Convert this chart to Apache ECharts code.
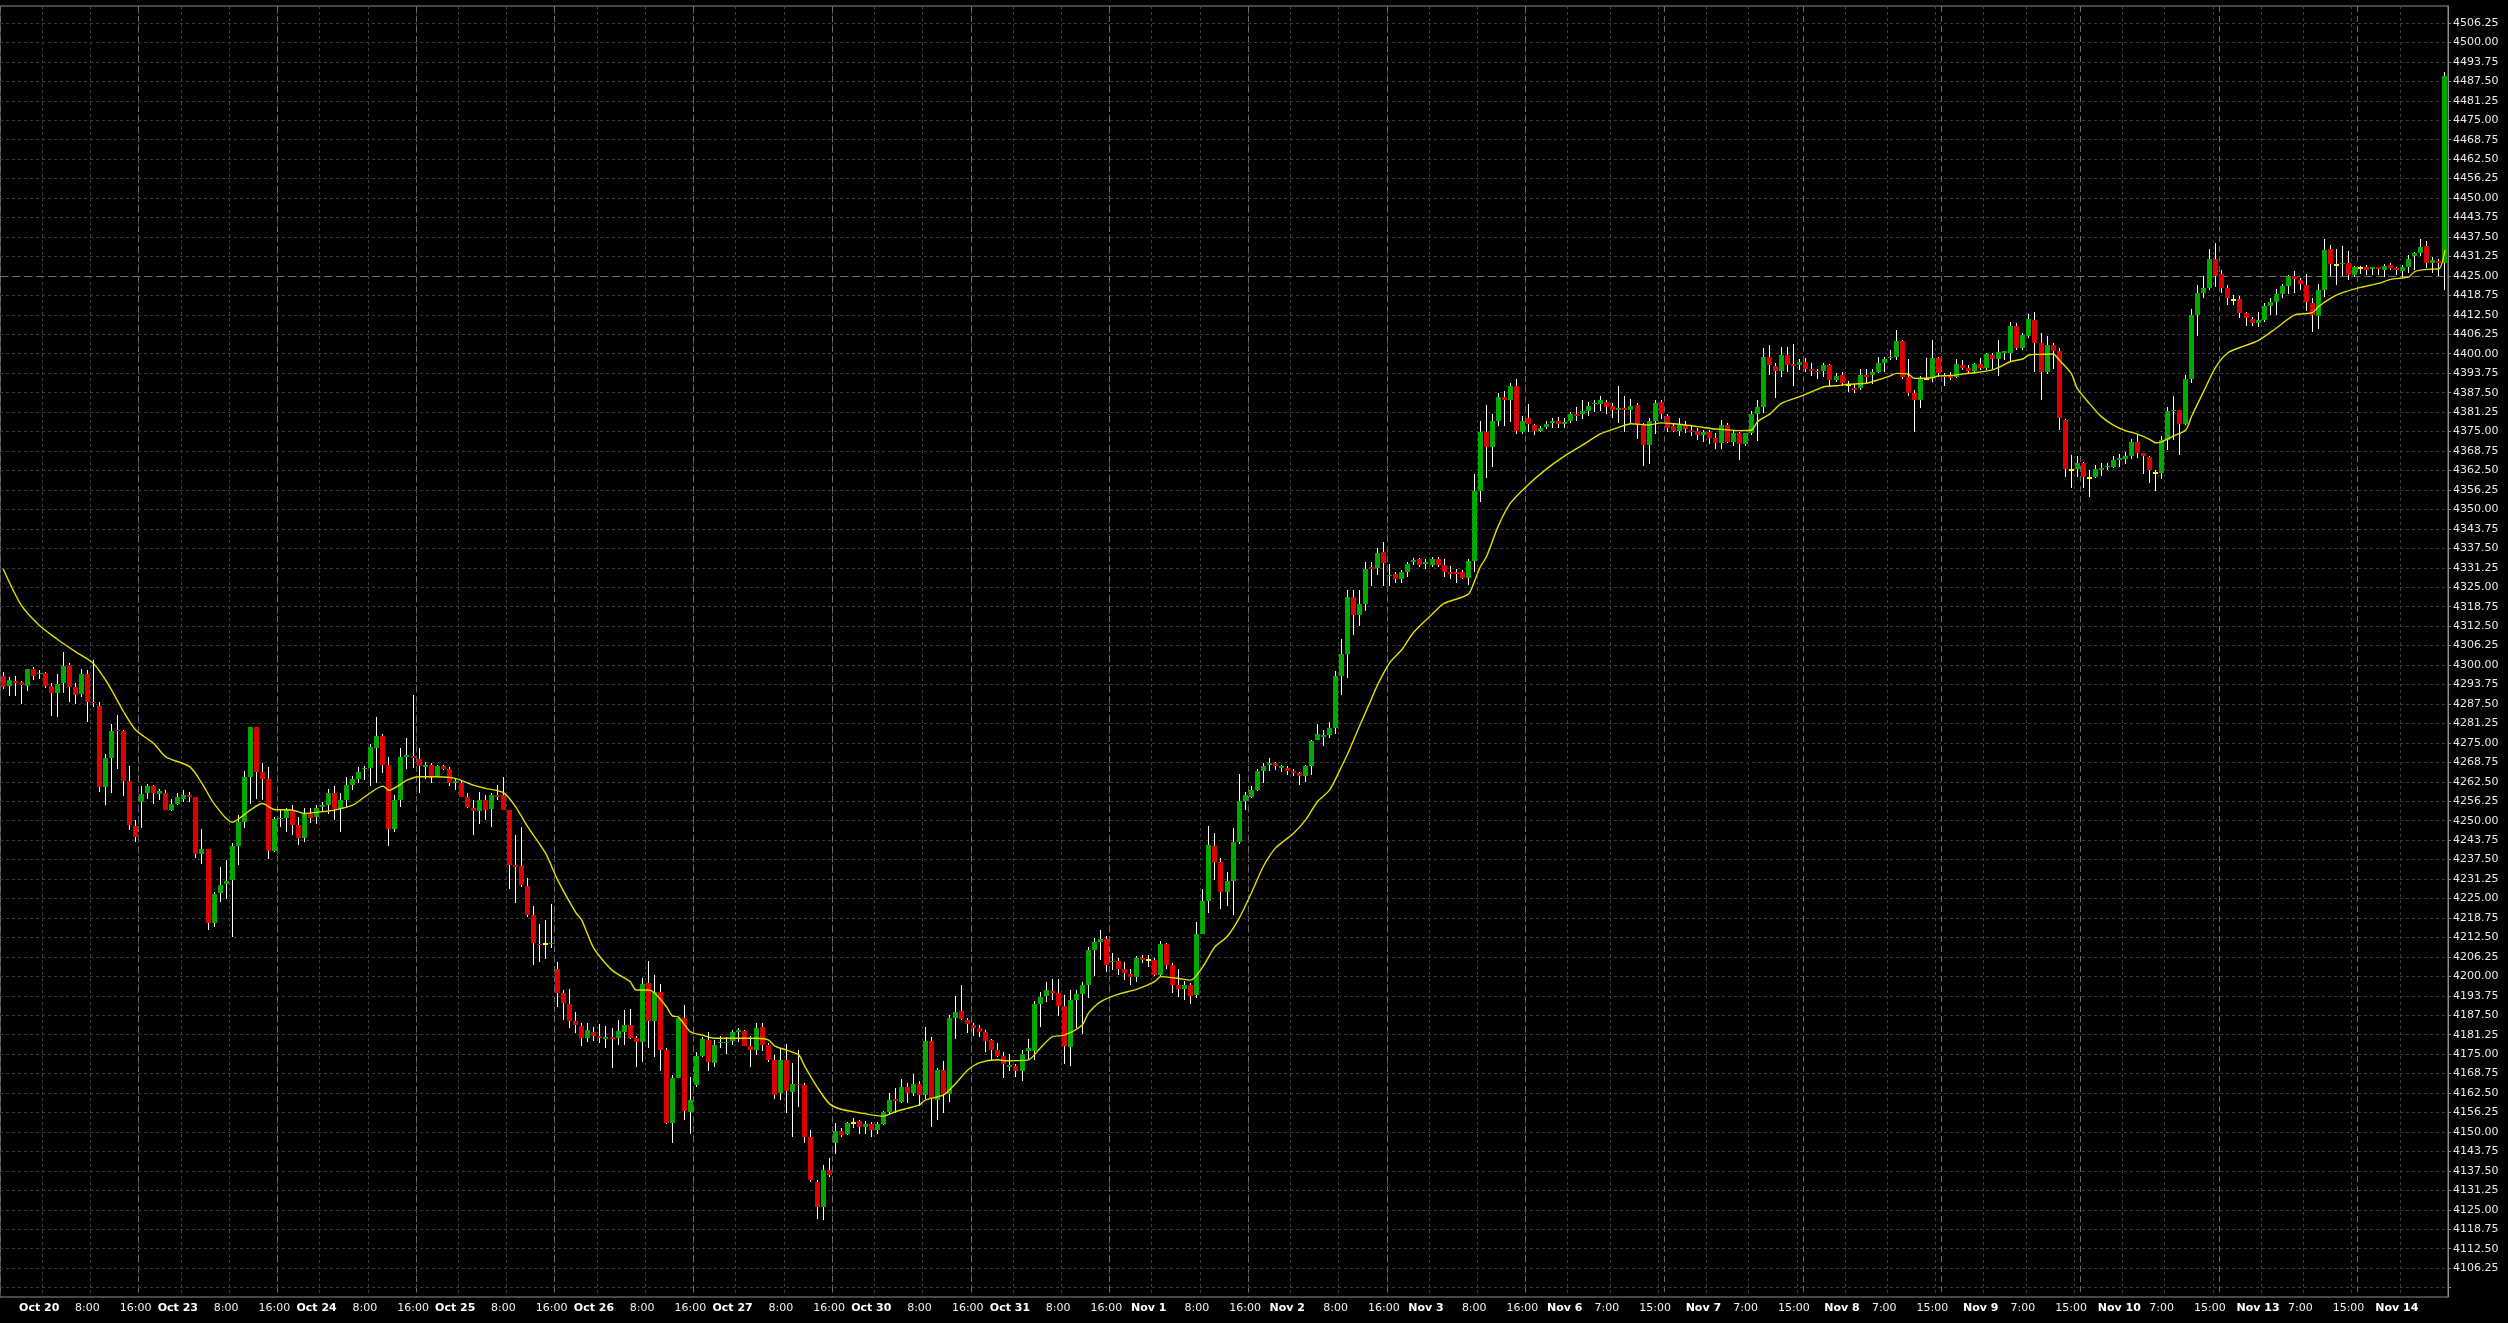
<!DOCTYPE html>
<html><head><meta charset="utf-8">
<script src="https://cdn.jsdelivr.net/npm/echarts@6/dist/echarts.min.js"></script>
<style>html,body{margin:0;padding:0;background:#000;}#c{width:2508px;height:1323px;}</style>
</head><body><div id="c"></div>
<script>
// ---- DATA ----
const days = ['Oct 20','Oct 23','Oct 24','Oct 25','Oct 26','Oct 27','Oct 30','Oct 31','Nov 1','Nov 2','Nov 3','Nov 6','Nov 7','Nov 8','Nov 9','Nov 10','Nov 13','Nov 14'];
const firstDayBar = 6;          // bars of the previous session before "Oct 20"
const barsPerDay = 23;          // hourly bars per trading day
const dstDay = 'Nov 6';
const hourTicksPre = [[8,'8:00'],[16,'16:00']];
const hourTicksPost = [[7,'7:00'],[15,'15:00']];
const sessionBreakOffset = 16;  // session separator after this bar of each day

// [open, high, low, close]
const ohlc = [
[4296.5,4297.75,4292.25,4293.0],[4293.25,4296.25,4290.0,4295.25],[4294.75,4296.5,4290.0,4294.25],[4294.5,4295.0,4287.5,4293.5],[4293.25,4298.75,4291.75,4298.75],
[4298.75,4299.5,4295.25,4296.5],[4297.0,4298.5,4295.5,4297.5],[4297.5,4297.75,4292.5,4293.25],[4293.25,4294.25,4283.75,4291.0],[4291.0,4297.0,4283.25,4294.0],
[4294.25,4304.25,4291.0,4299.75],[4300.0,4300.5,4288.25,4293.0],[4293.0,4294.25,4287.5,4290.5],[4290.75,4298.75,4289.75,4297.25],[4297.25,4298.5,4281.75,4288.0],
[4288.0,4301.5,4286.5,4287.75],[4287.0,4288.0,4259.25,4260.75],[4260.75,4271.5,4255.0,4270.0],[4270.25,4281.0,4259.0,4278.75],[4279.0,4284.0,4266.75,4278.75],
[4278.75,4279.0,4258.0,4262.75],[4262.75,4267.5,4247.0,4248.5],[4248.25,4250.25,4243.0,4244.75],[4256.0,4261.0,4247.75,4258.5],[4258.75,4261.75,4257.0,4261.0],
[4261.0,4261.5,4255.25,4258.75],[4258.5,4260.25,4256.5,4259.5],[4259.0,4259.75,4253.5,4253.5],[4253.5,4257.0,4253.25,4255.25],[4255.25,4258.75,4255.0,4257.5],
[4257.0,4259.75,4256.0,4258.25],[4258.25,4259.25,4256.0,4257.75],[4257.5,4257.75,4238.0,4239.25],[4239.25,4247.25,4236.25,4241.0],[4241.0,4241.0,4214.75,4217.25],
[4217.25,4227.25,4216.0,4226.5],[4226.75,4235.25,4224.0,4229.25],[4229.75,4237.25,4225.0,4230.5],[4231.0,4242.75,4212.75,4241.75],[4241.75,4251.75,4235.75,4249.5],
[4249.5,4266.0,4247.75,4264.0],[4264.0,4280.25,4255.5,4280.0],[4280.0,4280.25,4257.0,4265.75],[4265.5,4268.5,4256.5,4263.5],[4263.5,4267.25,4237.75,4240.25],
[4240.25,4251.25,4240.0,4250.5],[4250.5,4253.5,4248.0,4251.0],[4251.0,4254.0,4246.5,4253.5],[4253.5,4255.0,4245.5,4248.5],[4248.5,4251.25,4242.25,4244.5],
[4244.5,4254.0,4243.25,4252.25],[4252.25,4254.0,4249.25,4251.0],[4251.25,4255.0,4249.0,4254.0],[4254.25,4256.0,4253.0,4255.0],[4255.0,4260.25,4252.25,4259.0],
[4258.75,4261.0,4250.25,4253.75],[4253.75,4258.75,4246.25,4256.5],[4256.5,4264.0,4254.5,4261.5],[4261.5,4264.5,4259.75,4263.5],[4263.5,4267.25,4262.0,4265.75],
[4266.5,4267.5,4263.0,4267.0],[4267.0,4274.75,4261.0,4273.75],[4273.5,4283.25,4262.0,4277.25],[4277.25,4278.0,4265.25,4268.0],[4268.0,4270.5,4242.0,4247.25],
[4247.25,4258.25,4246.5,4256.5],[4256.5,4273.25,4254.5,4270.5],[4270.5,4276.5,4266.75,4271.25],[4270.75,4290.25,4267.0,4270.0],[4269.75,4273.5,4259.0,4267.5],
[4267.25,4269.0,4263.5,4268.0],[4268.0,4268.5,4262.25,4264.25],[4264.25,4268.0,4264.0,4267.5],[4267.5,4268.0,4266.25,4266.5],[4266.5,4267.25,4261.0,4262.0],
[4262.0,4263.5,4259.75,4262.75],[4262.25,4263.0,4257.5,4257.75],[4257.75,4258.75,4254.0,4254.25],[4254.0,4256.5,4245.5,4253.0],[4253.0,4259.25,4249.0,4256.5],
[4256.5,4258.25,4250.25,4253.5],[4253.75,4258.75,4248.0,4258.25],[4258.25,4261.5,4256.5,4257.75],[4258.25,4264.0,4253.5,4253.5],[4253.5,4253.5,4228.0,4235.75],
[4235.75,4245.5,4223.5,4235.25],[4235.5,4248.0,4228.75,4229.25],[4229.0,4231.5,4219.0,4219.75],[4219.75,4222.5,4203.5,4210.75],[4210.5,4216.75,4204.5,4210.25],
[4210.25,4218.25,4205.5,4210.25],[4210.25,4223.25,4209.25,4210.75],[4202.5,4204.5,4190.25,4194.75],[4194.5,4195.5,4186.0,4191.5],[4191.25,4196.0,4183.25,4185.75],
[4185.5,4188.5,4181.75,4184.5],[4184.0,4185.0,4177.5,4180.25],[4180.25,4185.0,4179.0,4182.75],[4182.25,4183.75,4179.25,4180.75],[4180.75,4184.75,4178.75,4180.25],
[4180.0,4184.0,4177.0,4180.5],[4180.5,4183.25,4170.5,4180.0],[4180.25,4186.0,4178.0,4182.5],[4182.25,4189.25,4178.0,4184.5],[4184.5,4189.5,4180.0,4180.25],
[4180.25,4181.0,4171.0,4179.0],[4179.0,4199.5,4172.5,4197.5],[4197.75,4205.0,4177.0,4185.5],[4185.75,4200.5,4174.25,4195.0],[4195.0,4197.5,4169.75,4176.25],
[4176.25,4177.0,4152.5,4153.0],[4153.0,4168.25,4146.5,4167.5],[4167.5,4187.0,4167.25,4186.75],[4186.75,4190.75,4153.75,4156.75],[4156.5,4167.75,4149.5,4160.25],
[4165.0,4175.75,4164.5,4174.5],[4174.5,4180.5,4174.25,4180.0],[4179.5,4182.25,4169.75,4172.5],[4172.25,4179.5,4171.0,4178.0],[4178.5,4181.0,4177.0,4179.0],
[4178.5,4180.5,4175.0,4179.0],[4179.25,4182.75,4178.0,4182.0],[4182.25,4183.25,4179.0,4182.75],[4182.5,4182.75,4177.5,4177.5],[4177.5,4181.0,4171.0,4176.5],
[4176.25,4185.0,4174.75,4183.5],[4183.75,4185.0,4176.0,4178.0],[4178.0,4178.5,4172.5,4173.0],[4173.0,4174.75,4160.5,4162.0],[4162.5,4177.0,4160.25,4173.0],
[4173.0,4178.25,4156.25,4163.25],[4163.0,4172.25,4148.5,4165.5],[4165.5,4176.5,4158.0,4165.0],[4165.0,4165.75,4146.5,4148.25],[4148.25,4150.5,4134.0,4134.5],
[4134.0,4134.5,4122.0,4125.75],[4125.75,4139.5,4121.75,4137.75],[4137.75,4141.5,4135.5,4136.25],[4146.5,4153.0,4143.0,4150.25],[4150.25,4151.25,4148.25,4149.0],
[4149.25,4153.25,4149.0,4152.75],[4153.0,4154.5,4151.25,4153.0],[4153.5,4153.75,4149.5,4151.5],[4151.5,4153.5,4149.5,4152.5],[4152.5,4153.25,4148.25,4150.5],
[4150.5,4153.25,4149.5,4152.5],[4152.5,4156.75,4152.25,4156.5],[4156.5,4162.5,4155.5,4160.25],[4160.5,4164.25,4156.0,4160.0],[4159.75,4167.0,4159.25,4164.5],
[4164.5,4165.75,4159.25,4162.5],[4162.5,4168.75,4161.5,4165.5],[4165.5,4166.25,4158.25,4161.75],[4161.75,4183.75,4160.75,4179.25],[4179.25,4180.5,4151.75,4160.5],
[4160.25,4170.5,4154.0,4170.0],[4170.0,4172.75,4156.0,4162.25],[4162.25,4187.5,4159.5,4186.75],[4186.75,4193.75,4180.0,4188.5],[4188.75,4197.25,4186.0,4186.25],
[4186.0,4186.75,4181.75,4184.75],[4184.25,4185.0,4180.75,4183.5],[4183.5,4184.5,4180.5,4182.0],[4182.0,4182.75,4175.75,4179.25],[4179.5,4180.0,4173.0,4176.25],
[4176.25,4178.5,4174.0,4174.5],[4174.5,4175.75,4167.5,4172.0],[4171.0,4175.0,4169.5,4171.5],[4171.25,4172.0,4167.75,4169.5],[4169.5,4176.25,4166.5,4175.0],
[4176.0,4180.0,4173.5,4177.0],[4176.0,4192.0,4173.25,4191.25],[4191.25,4195.0,4183.75,4193.5],[4193.75,4198.25,4191.75,4195.5],[4195.25,4199.25,4192.5,4194.5],
[4194.5,4199.25,4187.25,4190.5],[4190.5,4194.0,4172.0,4177.5],[4177.25,4195.5,4171.25,4192.5],[4192.5,4195.5,4183.25,4194.25],[4194.25,4198.25,4181.5,4197.25],
[4197.25,4209.5,4193.0,4208.5],[4208.5,4212.25,4200.0,4211.0],[4211.0,4215.0,4205.25,4212.0],[4212.0,4213.0,4201.5,4203.5],[4204.5,4207.5,4202.0,4205.0],
[4205.0,4206.0,4200.5,4202.25],[4202.25,4204.5,4198.75,4201.0],[4200.75,4202.5,4197.25,4199.75],[4199.75,4206.5,4198.25,4206.0],[4205.75,4206.75,4204.25,4205.25],
[4205.25,4206.75,4203.0,4205.25],[4205.25,4205.75,4200.0,4200.5],[4200.5,4211.5,4200.0,4210.5],[4210.5,4210.75,4202.5,4203.5],[4203.5,4204.25,4194.75,4197.25],
[4197.25,4202.5,4193.5,4196.0],[4196.0,4198.5,4192.25,4197.25],[4197.25,4197.75,4191.0,4193.75],[4194.0,4217.5,4193.0,4213.75],[4213.75,4228.0,4213.5,4224.25],
[4224.25,4248.25,4220.5,4242.25],[4242.0,4246.0,4231.0,4236.75],[4236.75,4238.0,4221.5,4227.0],[4227.0,4233.5,4222.5,4230.5],[4230.5,4247.5,4219.75,4243.25],
[4243.25,4265.0,4242.5,4256.25],[4256.25,4259.25,4253.5,4258.25],[4257.5,4261.0,4257.25,4260.0],[4260.0,4266.75,4259.5,4266.0],[4266.0,4268.5,4262.25,4267.5],
[4267.75,4270.0,4266.0,4268.5],[4268.5,4269.0,4266.25,4267.5],[4267.0,4268.0,4265.75,4267.5],[4267.0,4267.5,4264.75,4266.0],[4266.0,4266.5,4264.5,4265.25],
[4265.25,4265.75,4261.5,4264.5],[4264.5,4268.0,4262.5,4267.5],[4267.5,4276.0,4264.75,4275.5],[4276.0,4281.0,4276.0,4278.0],[4277.0,4279.0,4274.0,4277.5],
[4277.5,4281.75,4276.5,4279.75],[4279.75,4298.0,4277.75,4296.5],[4296.5,4308.5,4290.5,4303.5],[4303.5,4324.0,4295.75,4321.75],[4321.75,4324.0,4309.5,4316.0],
[4316.0,4324.0,4312.5,4319.5],[4319.5,4333.25,4317.25,4331.0],[4331.5,4333.25,4325.5,4331.0],[4331.25,4337.5,4329.0,4336.0],[4336.25,4339.5,4325.5,4332.75],
[4328.5,4332.5,4325.5,4329.0],[4329.25,4330.0,4326.5,4327.5],[4327.5,4330.5,4326.5,4330.0],[4330.0,4333.25,4328.25,4332.5],[4333.0,4334.25,4332.25,4333.75],
[4334.0,4334.25,4331.5,4332.25],[4332.5,4334.0,4330.75,4333.0],[4332.25,4334.75,4331.5,4334.0],[4334.0,4334.75,4331.5,4332.25],[4332.0,4334.0,4328.25,4330.0],
[4330.0,4331.75,4327.5,4329.25],[4329.75,4331.0,4326.25,4329.25],[4329.75,4330.5,4327.5,4328.0],[4328.0,4334.0,4325.75,4333.5],[4333.5,4361.5,4329.75,4356.0],
[4356.0,4378.5,4352.5,4375.0],[4375.0,4383.5,4360.0,4370.0],[4370.0,4380.5,4363.5,4378.5],[4378.5,4387.5,4376.75,4386.25],[4386.0,4388.0,4376.75,4385.25],
[4385.25,4390.5,4378.0,4389.75],[4389.75,4392.0,4374.25,4375.25],[4375.0,4380.0,4374.25,4378.5],[4379.25,4383.75,4375.0,4377.5],[4377.0,4377.5,4374.0,4375.25],
[4375.25,4376.75,4374.75,4376.0],[4376.5,4378.5,4375.75,4377.5],[4377.75,4379.5,4376.0,4378.5],[4378.5,4379.75,4376.0,4377.5],[4377.5,4379.25,4376.0,4378.0],
[4378.25,4381.25,4377.75,4380.5],[4380.5,4382.75,4378.5,4380.0],[4380.5,4385.0,4379.0,4381.75],[4381.75,4384.5,4380.0,4383.25],[4383.75,4385.25,4381.25,4384.25],
[4384.0,4386.5,4381.75,4385.0],[4384.5,4385.25,4380.5,4383.0],[4383.25,4384.25,4379.25,4382.0],[4382.0,4389.75,4377.75,4382.5],[4382.5,4386.5,4375.0,4382.0],
[4382.0,4385.5,4377.75,4383.25],[4383.5,4384.25,4372.5,4377.5],[4377.5,4377.75,4364.0,4370.75],[4370.75,4379.5,4364.5,4378.5],[4378.5,4385.0,4374.25,4384.25],
[4384.5,4385.25,4379.0,4380.5],[4380.0,4380.5,4375.0,4376.0],[4376.75,4377.5,4374.75,4375.25],[4375.25,4379.25,4373.5,4377.0],[4377.0,4378.25,4374.5,4375.75],
[4375.5,4376.75,4373.5,4375.0],[4375.25,4376.0,4372.25,4374.0],[4374.0,4375.5,4371.75,4374.75],[4374.75,4375.5,4371.0,4373.0],[4373.0,4374.5,4369.5,4371.25],
[4371.25,4378.75,4369.25,4377.25],[4377.25,4377.75,4371.25,4371.75],[4371.75,4375.5,4370.5,4374.5],[4374.5,4375.0,4365.75,4371.0],[4371.0,4374.5,4370.25,4374.5],
[4374.5,4381.5,4374.0,4380.5],[4380.5,4385.0,4372.0,4382.75],[4382.75,4401.75,4381.0,4399.0],[4399.0,4402.75,4393.25,4396.25],[4396.0,4397.0,4385.75,4394.5],
[4394.5,4402.25,4392.5,4399.5],[4399.5,4402.25,4394.25,4396.5],[4396.75,4403.25,4389.5,4396.0],[4396.5,4398.25,4394.75,4397.5],[4397.5,4398.5,4394.0,4395.0],
[4395.0,4397.0,4392.75,4394.5],[4394.5,4395.25,4392.0,4394.0],[4394.5,4397.0,4392.5,4396.5],[4396.25,4396.75,4389.5,4391.5],[4391.5,4393.75,4391.0,4393.0],
[4393.25,4394.0,4389.5,4390.75],[4390.0,4391.25,4387.75,4390.0],[4389.0,4390.25,4387.25,4388.5],[4389.0,4395.25,4388.5,4393.25],[4393.25,4395.25,4390.25,4392.5],
[4393.25,4395.25,4390.25,4394.0],[4394.25,4399.0,4393.75,4397.0],[4397.0,4399.0,4394.25,4398.25],[4398.5,4401.25,4398.0,4399.0],[4399.0,4407.75,4398.0,4404.0],
[4404.0,4404.5,4392.0,4392.5],[4392.5,4398.25,4386.5,4387.5],[4387.5,4388.25,4375.0,4385.0],[4385.0,4392.75,4382.5,4392.0],[4392.0,4398.5,4391.75,4392.0],
[4392.25,4404.5,4391.0,4398.75],[4398.75,4399.0,4392.5,4393.75],[4393.25,4393.75,4389.5,4392.5],[4392.75,4394.25,4391.5,4392.25],[4392.5,4398.25,4392.25,4396.75],
[4396.5,4398.0,4394.75,4395.5],[4395.5,4396.5,4393.75,4394.5],[4394.5,4397.0,4394.25,4396.75],[4396.75,4398.5,4394.75,4395.5],[4395.5,4400.25,4394.75,4400.0],
[4399.5,4400.25,4395.25,4398.25],[4398.25,4404.5,4392.75,4400.5],[4400.25,4401.0,4398.0,4400.75],[4400.25,4410.25,4397.5,4409.0],[4409.0,4409.75,4401.25,4401.75],
[4401.75,4406.5,4401.25,4406.0],[4405.75,4412.75,4405.0,4411.0],[4410.75,4413.25,4394.25,4403.5],[4403.5,4406.5,4385.0,4394.25],[4394.25,4405.75,4393.5,4402.75],
[4402.75,4403.5,4395.0,4401.0],[4401.0,4401.75,4375.5,4379.25],[4378.75,4379.0,4360.25,4363.0],[4362.5,4367.5,4356.75,4362.5],[4363.0,4367.0,4360.5,4364.75],
[4364.75,4365.25,4357.0,4360.5],[4360.0,4362.75,4354.0,4360.0],[4360.5,4364.25,4360.0,4363.0],[4362.75,4364.75,4360.75,4363.25],[4363.5,4365.0,4362.5,4364.0],
[4363.75,4367.0,4363.25,4366.0],[4366.0,4367.75,4363.75,4366.5],[4366.25,4368.5,4364.5,4367.25],[4367.25,4372.75,4366.25,4371.5],[4371.5,4374.0,4366.5,4368.25],
[4368.0,4368.25,4361.5,4367.0],[4366.75,4367.0,4358.5,4362.5],[4361.75,4362.5,4355.75,4361.75],[4361.75,4373.5,4359.75,4372.25],[4372.25,4383.0,4369.0,4381.5],
[4381.5,4386.5,4372.25,4382.0],[4382.0,4382.0,4367.5,4377.5],[4377.5,4393.25,4377.0,4391.75],[4391.75,4414.5,4390.5,4412.5],[4412.5,4422.0,4405.75,4419.5],
[4419.5,4425.0,4417.75,4421.0],[4421.0,4433.75,4420.5,4430.5],[4430.5,4435.5,4421.5,4425.0],[4425.75,4427.0,4419.5,4421.25],[4421.0,4422.0,4415.5,4417.75],
[4417.25,4418.75,4415.5,4417.25],[4417.5,4418.5,4411.5,4413.0],[4413.0,4413.5,4408.75,4411.5],[4411.25,4411.75,4408.75,4410.0],[4410.0,4413.5,4408.5,4410.75],
[4410.75,4416.25,4410.25,4415.25],[4415.25,4417.75,4412.5,4416.5],[4416.5,4420.75,4412.5,4419.25],[4419.25,4422.5,4417.75,4421.75],[4421.75,4425.25,4419.25,4425.0],
[4425.0,4426.5,4419.5,4424.0],[4423.75,4424.25,4420.5,4422.5],[4422.0,4425.75,4413.75,4416.5],[4416.25,4417.75,4407.0,4412.5],[4412.0,4422.5,4408.0,4420.5],
[4420.5,4437.0,4418.25,4433.25],[4433.5,4435.0,4425.0,4428.75],[4428.5,4433.75,4422.0,4428.5],[4428.75,4434.5,4425.0,4429.25],[4429.25,4433.0,4423.75,4425.25],
[4425.25,4428.25,4424.75,4428.0],[4427.5,4428.25,4425.75,4427.5],[4427.75,4428.5,4425.25,4427.0],[4427.25,4428.0,4425.25,4427.75],[4427.75,4428.0,4425.25,4427.25],
[4426.75,4428.75,4424.75,4428.25],[4428.5,4429.0,4427.0,4427.5],[4427.5,4428.0,4425.25,4426.75],[4426.5,4428.5,4424.75,4427.75],[4427.75,4431.75,4426.0,4430.5],
[4431.25,4432.75,4427.0,4432.25],[4432.25,4437.0,4431.25,4434.25],[4434.5,4436.25,4427.5,4429.25],[4429.0,4431.0,4426.0,4430.0],[4429.75,4430.5,4425.0,4429.0],
[4429.25,4490.5,4420.5,4489.25]
];

// moving average: [bar index, value]
const maPoints = [[0,4331],[3,4319.3],[6,4312.8],[9,4308.3],[12,4304.3],[15,4300.5],[17,4295.2],[18,4292],[20,4285],[22,4279.1],[25,4274.8],[27,4270.5],[31,4267.3],[33,4262],[35,4255.5],[38,4249.5],[41,4253.4],[43,4255.5],[45,4253.6],[48,4253.4],[50,4252.3],[53,4252.9],[55,4253.4],[58,4255],[60,4257.7],[63,4261.1],[64,4259.8],[67,4263],[69,4264.1],[72,4264.1],[75,4263.6],[78,4261.4],[80,4260.4],[83,4259],[85,4254.5],[87,4248.1],[90,4239.5],[92,4230.9],[95,4220.5],[96,4218],[98,4209],[101,4202],[104,4198.3],[105,4195.6],[107,4195.6],[108,4194.8],[110,4190.3],[111,4187.3],[112,4187],[114,4182.2],[116,4181.1],[118,4180.1],[122,4180.1],[125,4180.1],[127,4179.5],[128,4177.6],[130,4176.3],[132,4174.7],[133,4171],[135,4164.5],[137,4159.2],[139,4157.3],[142,4156.2],[144,4155.5],[146,4155.1],[148,4156.5],[150,4157.6],[152,4158.7],[153,4160.3],[156,4161.9],[158,4165.6],[160,4169.9],[162,4172.3],[165,4173.2],[166,4172.9],[170,4173.1],[172,4176.9],[174,4180.6],[176,4181.1],[179,4184.4],[180,4188.1],[182,4191.8],[185,4194.3],[188,4195.8],[191,4198.3],[192,4199.9],[195,4199.3],[197,4198.8],[199,4203.1],[201,4209.5],[203,4212.7],[205,4218.6],[207,4226.6],[209,4235.2],[211,4241.1],[214,4245.9],[216,4250.2],[218,4256.1],[220,4259.8],[222,4267.4],[223,4271.4],[225,4280.5],[227,4289.3],[228,4293.8],[230,4300.8],[232,4305],[234,4310.6],[237,4316.3],[239,4319.8],[243,4322.7],[244,4326.7],[245,4331.5],[246,4334.7],[248,4344.7],[250,4352],[253,4358],[256,4363],[259,4367.2],[262,4370.7],[265,4374.3],[268,4376.4],[270,4377.5],[273,4377.1],[275,4377.8],[277,4377.5],[279,4377.1],[281,4376.6],[284,4375.8],[285,4375.7],[288,4375.3],[290,4375.5],[291,4378.2],[293,4380.6],[295,4384.1],[298,4386.2],[300,4387.8],[302,4389.4],[304,4389.7],[306,4390.2],[309,4390.5],[311,4391.6],[313,4392.9],[314,4393.7],[316,4393.4],[317,4392.1],[320,4392.3],[321,4392.9],[323,4393],[325,4393.5],[327,4393.9],[330,4394.8],[331,4395.6],[333,4397.5],[335,4398.3],[336,4399.6],[338,4399.8],[340,4399.9],[341,4398],[343,4393.7],[344,4388.9],[346,4384.1],[348,4379.8],[350,4377.1],[352,4375.3],[354,4374.2],[356,4372.5],[357,4371.4],[358,4371.7],[360,4373.6],[362,4375.5],[363,4380],[365,4388],[367,4395.8],[369,4400.3],[371,4402],[374,4404.2],[377,4408.2],[380,4412.4],[383,4413.2],[384,4415.1],[386,4417.8],[388,4419.6],[391,4421.3],[394,4422.6],[396,4423.9],[399,4424.7],[400,4426.4],[402,4427.1],[404,4427.3],[405,4433.3]];

const yLabels = [4106.25,4112.5,4118.75,4125,4131.25,4137.5,4143.75,4150,4156.25,4162.5,4168.75,4175,4181.25,4187.5,4193.75,4200,4206.25,4212.5,4218.75,4225,4231.25,4237.5,4243.75,4250,4256.25,4262.5,4268.75,4275,4281.25,4287.5,4293.75,4300,4306.25,4312.5,4318.75,4325,4331.25,4337.5,4343.75,4350,4356.25,4362.5,4368.75,4375,4381.25,4387.5,4393.75,4400,4406.25,4412.5,4418.75,4425,4431.25,4437.5,4443.75,4450,4456.25,4462.5,4468.75,4475,4481.25,4487.5,4493.75,4500,4506.25];
const yGrid = [4100].concat(yLabels);
const priceLine = 4425;
const yMin = 4097.0, yMax = 4511.7;

// ---- BUILD ----
const N = ohlc.length;
const cats = [];
const labelText = [];
for (let i = 0; i < N; i++) {
  const k = Math.floor((i - firstDayBar) / barsPerDay);
  const off = (i - firstDayBar) - k * barsPerDay;
  cats.push((k < 0 ? 'Oct 19' : days[k]) + ' #' + off);
}
const dstIdx = days.indexOf(dstDay);
days.forEach((d, k) => {
  const s = firstDayBar + k * barsPerDay;
  if (s < N) labelText[s] = '{d|' + d + '}';
  const ht = k >= dstIdx ? hourTicksPost : hourTicksPre;
  ht.forEach(([o, t]) => { if (s + o < N - 4) labelText[s + o] = '{h|' + t + '}'; });
});

const candleData = ohlc.map((r, i) => [i, r[0], r[1], r[2], r[3]]);

function renderCandle(params, api) {
  const i = api.value(0), o = api.value(1), h = api.value(2), l = api.value(3), c = api.value(4);
  const pO = api.coord([i, o]), pC = api.coord([i, c]), pH = api.coord([i, h]), pL = api.coord([i, l]);
  const cx = Math.floor(pO[0]);
  const children = [{
    type: 'line',
    shape: { x1: cx + 0.5, y1: Math.round(pH[1]), x2: cx + 0.5, y2: Math.round(pL[1]) },
    style: { stroke: '#ffffff', lineWidth: 1 }
  }];
  if (o === c) {
    const y = Math.round(pO[1]);
    children.push({ type: 'rect', shape: { x: cx - 2, y: y - 1, width: 5, height: 2 }, style: { fill: '#ffff00' } });
  } else {
    const top = Math.round(Math.min(pO[1], pC[1]));
    const bot = Math.round(Math.max(pO[1], pC[1]));
    children.push({
      type: 'rect',
      shape: { x: cx - 2, y: top, width: 5, height: Math.max(1, bot - top) },
      style: { fill: c > o ? '#00a800' : '#dd0000' }
    });
  }
  return { type: 'group', children };
}

const chart = echarts.init(document.getElementById('c'));
chart.setOption({
  backgroundColor: '#000000',
  animation: false,
  grid: { left: 0, right: 60, top: 6, bottom: 26, show: true, borderColor: '#8c8c8c', borderWidth: 1, backgroundColor: '#000000' },
  xAxis: [{
    type: 'category', data: cats, boundaryGap: true,
    axisLine: { show: false }, axisTick: { show: false },
    axisLabel: {
      interval: (idx) => !!labelText[idx],
      formatter: (v, idx) => labelText[idx] || '',
      margin: 6,
      rich: {
        d: { fontFamily: 'DejaVu Sans', fontSize: 11, fontWeight: 'bold', color: '#ffffff' },
        h: { fontFamily: 'DejaVu Sans', fontSize: 11, color: '#f0f0f0' }
      }
    },
    splitLine: { show: true, interval: (idx) => !!labelText[idx - 1], lineStyle: { color: '#3a3a3a', type: [3, 3], width: 1 } }
  }, {
    type: 'category', data: cats, boundaryGap: true, position: 'top',
    axisLine: { show: false }, axisTick: { show: false }, axisLabel: { show: false },
    splitLine: { show: true, interval: (idx) => ((idx - firstDayBar - sessionBreakOffset - 1) % barsPerDay) === 0, lineStyle: { color: '#6a6a6a', type: [6, 4], width: 1 } }
  }],
  yAxis: {
    type: 'value', position: 'right', min: yMin, max: yMax,
    axisLine: { show: true, lineStyle: { color: '#8c8c8c' } },
    axisTick: { show: true, length: 3, customValues: yGrid, lineStyle: { color: '#8c8c8c' } },
    axisLabel: { customValues: yLabels, formatter: (v) => v.toFixed(2), color: '#e8e8e8', fontSize: 11, fontFamily: 'DejaVu Sans', margin: 5 },
    splitLine: { show: false }
  },
  series: [{
    type: 'line', data: [], z: 1, silent: true,
    markLine: {
      silent: true, symbol: 'none', label: { show: false }, animation: false,
      lineStyle: { color: '#3a3a3a', type: [3, 3], width: 1 },
      data: yGrid.map(v => ({ yAxis: v })).concat([{ yAxis: priceLine, lineStyle: { color: '#707070', type: [8, 4], width: 1 } }])
    }
  }, {
    type: 'custom', name: 'candles', z: 5, clip: true,
    renderItem: renderCandle,
    encode: { x: 0, y: [1, 2, 3, 4] },
    data: candleData
  }, {
    type: 'line', name: 'MA', z: 6, data: maPoints, showSymbol: false, smooth: 0.25,
    lineStyle: { color: '#e0e000', width: 1.4 }, silent: true
  }]
});
</script></body></html>
